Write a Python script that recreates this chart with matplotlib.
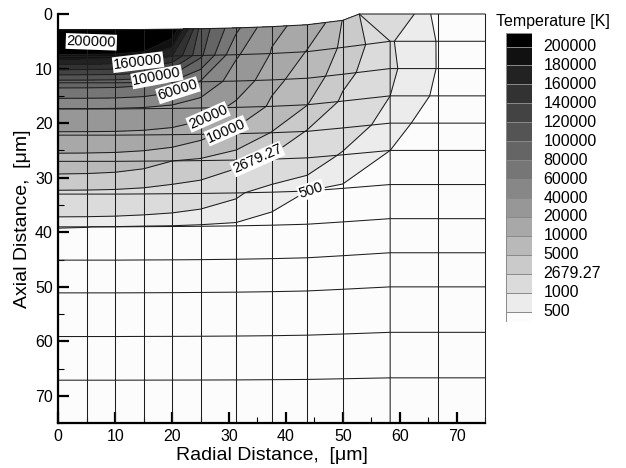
import numpy as np
import matplotlib.pyplot as plt
from matplotlib.colors import ListedColormap, BoundaryNorm

plt.rcParams['font.family'] = ['Liberation Sans', 'DejaVu Sans']

# radial position of the mesh columns [um]; top row has the crater rim node at 52.9
radial_nodes = [0, 5, 10, 15, 20, 25, 31.25, 37.5, 43.75, 50, 58.33, 66.67, 75]
surface_radial = [0, 5, 10, 15, 20, 25, 31.25, 37.5, 43.75, 50, 52.9, 66.67, 75]

# axial position of every mesh node [um], one list per mesh row (top to bottom)
axial_nodes = [
    [2.9, 2.9, 2.9, 2.84, 2.78, 2.70, 2.55, 2.32, 1.97, 1.16, 0, 0, 0],
    [7.8, 7.8, 7.8, 7.74, 7.69, 7.60, 7.46, 7.24, 6.90, 6.12, 5, 5, 5],
    [12.6, 12.6, 12.6, 12.55, 12.5, 12.42, 12.29, 12.08, 11.77, 11.04, 10, 10, 10],
    [17.4, 17.4, 17.4, 17.35, 17.3, 17.23, 17.11, 16.92, 16.63, 15.96, 15, 15, 15],
    [22.2, 22.2, 22.2, 22.16, 22.11, 22.05, 21.94, 21.76, 21.5, 20.88, 20, 20, 20],
    [27.0, 27.0, 27.0, 26.96, 26.92, 26.86, 26.76, 26.6, 26.36, 25.8, 25, 25, 25],
    [33.0, 33.0, 33.0, 32.97, 32.93, 32.88, 32.79, 32.65, 32.44, 31.95, 31.25, 31.25, 31.25],
    [39.0, 39.0, 39.0, 38.97, 38.94, 38.9, 38.82, 38.7, 38.52, 38.1, 37.5, 37.5, 37.5],
    [45.1, 45.1, 45.1, 45.07, 45.05, 45.01, 44.94, 44.83, 44.67, 44.29, 43.75, 43.75, 43.75],
    [51.1, 51.1, 51.1, 51.08, 51.06, 51.02, 50.97, 50.88, 50.75, 50.44, 50, 50, 50],
    [59.1, 59.1, 59.1, 59.08, 59.07, 59.05, 59.01, 58.95, 58.85, 58.64, 58.33, 58.33, 58.33],
    [67.1, 67.1, 67.1, 67.09, 67.08, 67.07, 67.05, 67.01, 66.96, 66.84, 66.67, 66.67, 66.67],
    [75, 75, 75, 75, 75, 75, 75, 75, 75, 75, 75, 75, 75],
]

# nodal temperature [K]
temperature = [
    [330000, 328000, 320000, 300000, 222000, 113000, 65000, 23300, 15700, 4800, 2680, 290, 290],
    [190000, 189000, 187000, 180000, 160000, 104400, 42600, 19000, 9500, 4200, 1050, 480, 400],
    [90000, 89800, 89060, 86000, 76900, 58300, 29150, 12000, 6800, 3300, 1100, 480, 400],
    [39500, 39400, 38900, 37780, 34540, 28000, 16690, 8750, 5050, 2320, 1000, 400, 370],
    [17100, 17000, 16830, 16170, 14610, 11690, 7890, 4853, 2535, 1643, 580, 400, 360],
    [6800, 6720, 6470, 5930, 5010, 4418, 3225, 2239, 1551, 900, 500, 380, 350],
    [2130, 2110, 2052, 1932, 1748, 1501, 1124, 620, 500, 440, 420, 360, 340],
    [505, 502, 490, 475, 470, 450, 430, 420, 400, 380, 370, 340, 330],
    [380, 378, 370, 360, 350, 340, 335, 330, 325, 320, 320, 320, 315],
    [340, 338, 335, 330, 325, 320, 318, 315, 312, 310, 310, 310, 305],
    [315, 314, 312, 310, 308, 306, 305, 304, 303, 302, 302, 300, 300],
    [305, 305, 304, 303, 302, 301, 301, 300, 300, 300, 300, 300, 300],
    [300, 300, 300, 300, 300, 300, 300, 300, 300, 300, 300, 300, 300],
]

levels = [500, 1000, 2679.27, 5000, 10000, 20000, 40000, 60000, 80000,
          100000, 120000, 140000, 160000, 180000, 200000]
labelled = [500, 2679.27, 10000, 20000, 60000, 100000, 160000]
label_spots = [(44.6, 33.3), (35, 26.6), (29.5, 21.3), (26.3, 18.8),
               (21, 13.9), (17.3, 11.3), (14, 8.6)]

X = np.array([surface_radial] + [radial_nodes] * (len(axial_nodes) - 1))
Y = np.array(axial_nodes)
T = np.array(temperature, dtype=float)

grays = [str(round(g, 3)) for g in np.linspace(0.99, 0.0, len(levels) + 1)]
cmap = ListedColormap(grays[1:-1])
cmap.set_under(grays[0])
cmap.set_over(grays[-1])
norm = BoundaryNorm(levels, cmap.N)

fig = plt.figure(figsize=(6.26, 4.68), dpi=100)
ax = fig.add_axes([58.3 / 626, 1 - 423.3 / 468, 426.7 / 626, 409.3 / 468])
ax.set_xlim(0, 75)
ax.set_ylim(75, 0)

line_col = '#1e1e1e'
ax.contourf(X, Y, T, levels=levels, cmap=cmap, norm=norm, extend='both', zorder=1)
plain = [v for v in levels if v not in labelled]
ax.contour(X, Y, T, levels=plain, colors=line_col, linewidths=0.75, zorder=2)
cs = ax.contour(X, Y, T, levels=labelled, colors=line_col, linewidths=0.75, zorder=2)

for r in range(X.shape[0]):
    ax.plot(X[r, :], Y[r, :], color=line_col, lw=0.75, zorder=2, clip_on=False)
for c in range(X.shape[1]):
    ax.plot(X[:, c], Y[:, c], color=line_col, lw=0.75, zorder=2, clip_on=False)

txts = ax.clabel(cs, manual=label_spots, inline=True, inline_spacing=2,
                 fontsize=10.5, colors='black', fmt=lambda v: f"{v:g}")
for t in txts:
    t.set_bbox(dict(facecolor='white', edgecolor='none', pad=0.6))
    t.set_zorder(6)
# the 200000 tag sits just above its line, inside the black core
ax.text(5.8, 5.1, f"{levels[-1]:g}", fontsize=10.5, ha='center', va='center',
        rotation=-2, zorder=6,
        bbox=dict(facecolor='white', edgecolor='none', pad=0.6))

ax.set_xticks(range(0, 71, 10))
ax.set_xticks(range(5, 76, 10), minor=True)
ax.set_yticks(range(0, 71, 10))
ax.set_yticks(range(5, 76, 10), minor=True)
ax.tick_params(which='major', direction='in', length=8, width=1.6, labelsize=11.5,
               top=False, right=False, pad=4)
ax.tick_params(which='minor', direction='in', length=4, width=0.8,
               top=False, right=False)
for side in ['top', 'right']:
    ax.spines[side].set_visible(False)
for side in ['left', 'bottom']:
    ax.spines[side].set_linewidth(1.6)
    ax.spines[side].set_zorder(5)

ax.set_xlabel('Radial Distance,  [\u03bcm]', fontsize=14, labelpad=2)
ax.set_ylabel('Axial Distance,  [\u03bcm]', fontsize=14, labelpad=3)

# legend in Tecplot style: equal boxes per level
cax = fig.add_axes([506 / 626, 1 - 321.7 / 468, 25.7 / 626, 288.4 / 468])
edges = [-0.53] + list(range(len(levels))) + [len(levels) - 1 + 0.7]
for i in range(len(grays)):
    cax.bar(0.5, edges[i + 1] - edges[i], bottom=edges[i], width=1,
            color=grays[i], edgecolor='#8a8a8a', linewidth=0.7)
for i, v in enumerate(levels):
    cax.text(1.45, i, f"{v:g}", ha='left', va='center', fontsize=11.5)
cax.set_xlim(0, 1)
cax.set_ylim(edges[0], edges[-1])
cax.axis('off')
fig.text(552.5 / 626, 1 - 21.7 / 468, 'Temperature [K]', ha='center', va='center',
         fontsize=11.5)

fig.savefig('out.png', dpi=100)
